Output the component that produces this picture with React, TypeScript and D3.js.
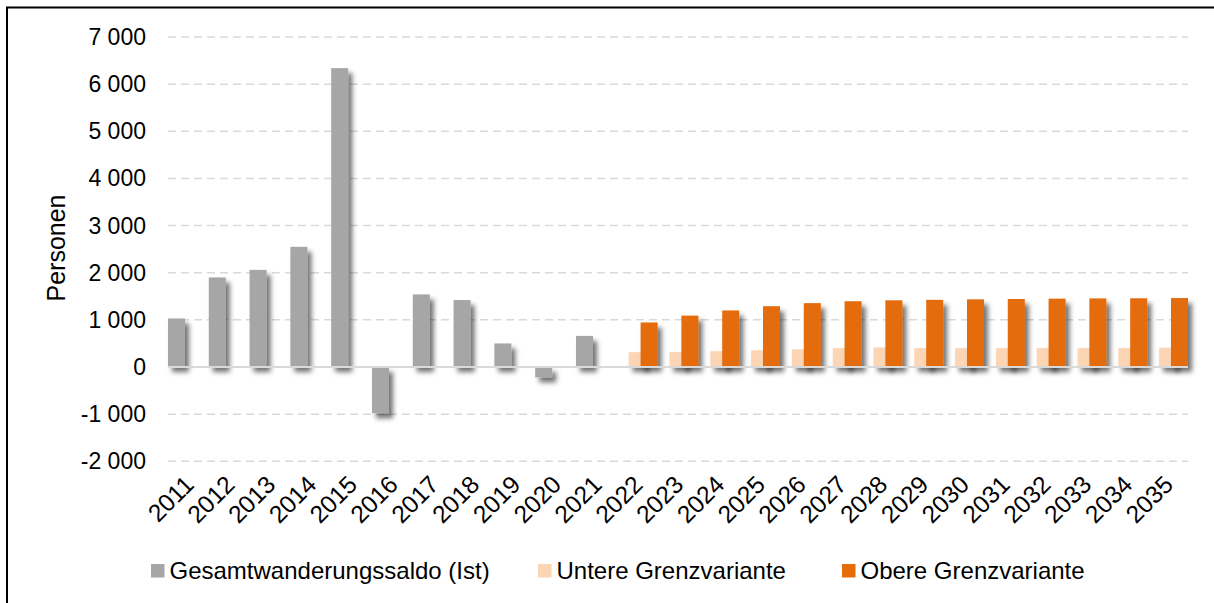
import React from 'react';
import * as d3 from 'd3';

const years = d3.range(2011, 2036).map(String);
const istYears = ['2011', '2012', '2013', '2014', '2015', '2016', '2017', '2018', '2019', '2020', '2021'];
const istValues = [1030, 1900, 2060, 2550, 6340, -980, 1540, 1420, 500, -220, 660];
const projYears = ['2022', '2023', '2024', '2025', '2026', '2027', '2028', '2029', '2030', '2031', '2032', '2033', '2034', '2035'];
const untereValues = [315, 320, 335, 355, 375, 400, 415, 400, 400, 400, 400, 400, 405, 410];
const obereValues = [945, 1090, 1200, 1290, 1355, 1395, 1415, 1425, 1435, 1443, 1450, 1455, 1458, 1463];
const yTicks = [-2000, -1000, 0, 1000, 2000, 3000, 4000, 5000, 6000, 7000];

const seriesNames = ['Gesamtwanderungssaldo (Ist)', 'Untere Grenzvariante', 'Obere Grenzvariante'];
const colors = ['#a6a6a6', '#fcd5b5', '#e46c0a'];

// German style: space as thousands separator, plain hyphen for minus
const fmt = (v: number) => d3.format(',')(v).replace(/,/g, ' ').replace('\u2212', '-');

export default function App() {
  const width = 1214;
  const height = 603;
  const font = 'Liberation Sans, Arial, sans-serif';

  const x = d3.scaleBand().domain(years).range([168, 1188]).padding(0);
  const y = d3.scaleLinear().domain([-2000, 7000]).range([461.3, 37]);
  const W = x.bandwidth();
  const bw = (17 / 40.8) * W;
  const step = (W - bw) / 2;

  const bar = (yr: string, v: number, k: number) => {
    const x0 = (x(yr) as number) + k * step;
    const y0 = y(Math.max(0, v));
    const h = Math.abs(y(v) - y(0));
    return <rect key={yr + k} x={x0} y={y0} width={bw} height={h} fill={colors[k]} />;
  };

  const legendX = [151, 538, 842];

  return (
    <svg width={width} height={height} style={{ position: 'absolute', left: 0, top: 0 }} fontFamily={font}>
      <defs>
        <filter id="shadow" x="-50%" y="-50%" width="200%" height="200%">
          <feDropShadow dx="4" dy="5" stdDeviation="2.6" floodColor="#000" floodOpacity="0.55" />
        </filter>
      </defs>
      <rect x={0} y={0} width={width} height={height} fill="#fff" />
      <rect x={7} y={7.5} width={width + 20} height={height + 20} fill="none" stroke="#000" strokeWidth={2} />

      {yTicks.filter((t) => t !== 0).map((t) => (
        <line key={t} x1={168} x2={1188} y1={y(t)} y2={y(t)} stroke="#d9d9d9" strokeWidth={1.5} strokeDasharray="8 5" />
      ))}
      {yTicks.map((t) => (
        <text key={'l' + t} x={146} y={y(t)} dy="0.35em" textAnchor="end" fontSize={23} fill="#000">
          {fmt(t)}
        </text>
      ))}
      <text transform={`translate(65,248) rotate(-90)`} textAnchor="middle" fontSize={25} fill="#000">
        Personen
      </text>

      <g filter="url(#shadow)">{istYears.map((yr, i) => bar(yr, istValues[i], 0))}</g>
      <g filter="url(#shadow)">{projYears.map((yr, i) => bar(yr, untereValues[i], 1))}</g>
      <g filter="url(#shadow)">{projYears.map((yr, i) => bar(yr, obereValues[i], 2))}</g>

      <line x1={168} x2={1188} y1={y(0)} y2={y(0)} stroke="#d9d9d9" strokeWidth={2} />

      {years.map((yr) => (
        <text
          key={'x' + yr}
          transform={`translate(${(x(yr) as number) + W / 2 + 7},${486}) rotate(-45)`}
          textAnchor="end"
          fontSize={24.5}
          fill="#000"
        >
          {yr}
        </text>
      ))}

      {seriesNames.map((s, i) => (
        <g key={s}>
          <rect x={legendX[i]} y={564} width={13.5} height={13.5} fill={colors[i]} />
          <text x={legendX[i] + 18.5} y={571} dy="0.35em" fontSize={24} fill="#000">
            {s}
          </text>
        </g>
      ))}
    </svg>
  );
}
